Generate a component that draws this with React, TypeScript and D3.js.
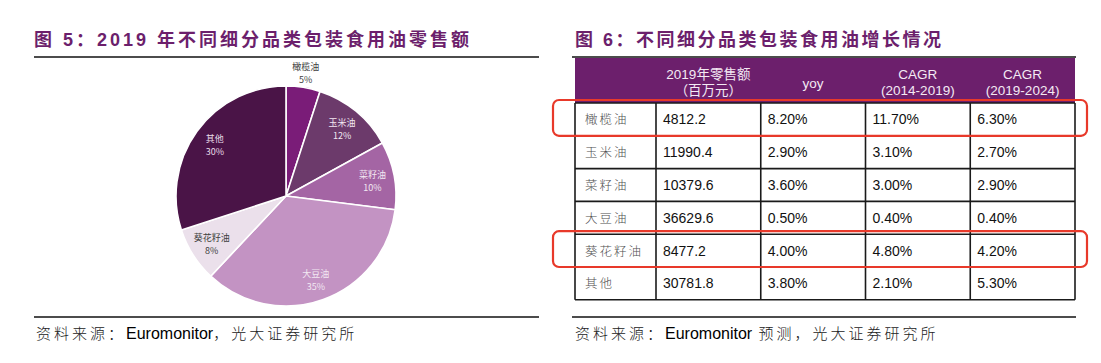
import React from "react";
import * as d3 from "d3";

const categories = ["橄榄油", "玉米油", "菜籽油", "大豆油", "葵花籽油", "其他"];
const pieShares = [5, 12, 10, 35, 8, 30];
const retail2019 = [4812.2, 11990.4, 10379.6, 36629.6, 8477.2, 30781.8];
const yoy = ["8.20%", "2.90%", "3.60%", "0.50%", "4.00%", "3.80%"];
const cagr1419 = ["11.70%", "3.10%", "3.00%", "0.40%", "4.80%", "2.10%"];
const cagr1924 = ["6.30%", "2.70%", "2.90%", "0.40%", "4.20%", "5.30%"];
const headerLines = [
  [""],
  ["2019年零售额", "（百万元）"],
  ["yoy"],
  ["CAGR", "(2014-2019)"],
  ["CAGR", "(2019-2024)"],
];
const highlighted = ["橄榄油", "葵花籽油"];

const sliceColors = ["#7a1c78", "#6c3a6b", "#a465a4", "#c393c3", "#ebe0eb", "#4a1447"];
const labelColors = ["#404040", "#f2e8f2", "#f2e8f2", "#f2e8f2", "#404040", "#e8dce8"];

const CJK = "'Noto Sans CJK SC', sans-serif";
const LAT = "'Liberation Sans', Arial, 'Noto Sans CJK SC', sans-serif";
const PURPLE = "#6c1f6c";

function Pie() {
  const cx = 286, cy = 196, R = 110;
  const total = d3.sum(pieShares);
  const pie = d3.pie<number>().sort(null).value((d) => d);
  const arcs = pie(pieShares);
  const arc = d3.arc<d3.PieArcDatum<number>>().innerRadius(0).outerRadius(R);
  return (
    <g transform={`translate(${cx},${cy})`}>
      {arcs.map((a, i) => (
        <path key={i} d={arc(a) || ""} fill={sliceColors[i]} stroke="#fff" strokeWidth={1.6} strokeLinejoin="round" />
      ))}
      {arcs.map((a, i) => {
        const share = a.value / total;
        const lr = share < 0.06 ? R + 16 : R * 0.8;
        const mid = (a.startAngle + a.endAngle) / 2;
        const x = Math.sin(mid) * lr;
        const y = -Math.cos(mid) * lr;
        return (
          <text key={"l" + i} x={x} y={y} textAnchor="middle" fontSize={9} fill={labelColors[i]} fontFamily={CJK}>
            <tspan x={x} dy={-2}>{categories[i]}</tspan>
            <tspan x={x} dy={13}>{d3.format(".0%")(share)}</tspan>
          </text>
        );
      })}
    </g>
  );
}

function Table() {
  const left = 575, right = 1075;
  const headTop = 58, headBottom = 103, rowH = 32.8;
  const firstW = 81;
  const colScale = d3.scaleLinear().domain([1, 5]).range([left + firstW, right]);
  const edges = [left, ...d3.range(1, 6).map((k) => colScale(k))];
  const rowScale = d3.scaleLinear().domain([0, categories.length]).range([headBottom, headBottom + rowH * categories.length]);
  const rows = categories.map((c, i) => [c, d3.format(".1f")(retail2019[i]), yoy[i], cagr1419[i], cagr1924[i]]);
  const bottom = rowScale(categories.length);
  return (
    <g>
      <rect x={left} y={headTop} width={right - left} height={headBottom - headTop} fill={PURPLE} />
      {headerLines.map((lines, j) => {
        const xc = (edges[j] + edges[j + 1]) / 2;
        const ys = lines.length === 2 ? [74, 90] : [83];
        return lines.map((t, k) => (
          <text key={j + "-" + k} x={xc} y={ys[k] + 5} textAnchor="middle" fontSize={13.5} fill="#f4eaf4" fontFamily={LAT}>
            {t}
          </text>
        ));
      })}
      {rows.map((r, i) =>
        r.map((t, j) => (
          <text
            key={i + "-" + j}
            x={edges[j] + (j === 0 ? 10 : 7)}
            y={(rowScale(i) + rowScale(i + 1)) / 2 + 5}
            fontSize={j === 0 ? 12.5 : 14}
            fill={j === 0 ? "#505050" : "#111"}
            fontFamily={j === 0 ? CJK : LAT}
            fontWeight={j === 0 ? 300 : 400}
            letterSpacing={j === 0 ? 2 : 0}
          >
            {t}
          </text>
        ))
      )}
      {d3.range(0, categories.length + 1).map((k) => (
        <line key={"h" + k} x1={left} x2={right} y1={rowScale(k)} y2={rowScale(k)} stroke="#1a1a1a" strokeWidth={1.6} />
      ))}
      {edges.map((x, k) => (
        <line key={"v" + k} x1={x} x2={x} y1={headBottom} y2={bottom} stroke="#1a1a1a" strokeWidth={1.6} />
      ))}
      {highlighted.map((h) => {
        const i = categories.indexOf(h);
        return (
          <rect
            key={h}
            x={553}
            y={rowScale(i) - 3}
            width={1087 - 553}
            height={rowH + 3}
            rx={6}
            fill="none"
            stroke="#e8392a"
            strokeWidth={2.2}
          />
        );
      })}
    </g>
  );
}

export default function App() {
  return (
    <svg width={1101} height={363} style={{ position: "absolute", left: 0, top: 0, background: "#fff" }}>
      <rect width={1101} height={363} fill="#fff" />
      {/* Left panel */}
      <text x={34} y={46} fontSize={18} fontWeight={700} fill={PURPLE} fontFamily={LAT} letterSpacing={3}>
        图 5：2019 年不同细分品类包装食用油零售额
      </text>
      <line x1={34} x2={539} y1={57} y2={57} stroke="#111" strokeWidth={1.3} />
      <Pie />
      <line x1={34} x2={539} y1={317} y2={317} stroke="#111" strokeWidth={1.3} />
      <text x={36} y={339} fontSize={15} fill="#222" fontFamily={CJK} fontWeight={300}>
        <tspan letterSpacing={3}>资料来源：</tspan>
        <tspan fontFamily={LAT} fontSize={16} fill="#000">Euromonitor</tspan>
        <tspan letterSpacing={3}>，光大证券研究所</tspan>
      </text>
      {/* Right panel */}
      <text x={575} y={46} fontSize={18} fontWeight={700} fill={PURPLE} fontFamily={LAT} letterSpacing={2.5}>
        图 6：不同细分品类包装食用油增长情况
      </text>
      <line x1={572} x2={1076} y1={57} y2={57} stroke="#111" strokeWidth={1.3} />
      <Table />
      <line x1={572} x2={1076} y1={317} y2={317} stroke="#111" strokeWidth={1.3} />
      <text x={575} y={339} fontSize={15} fill="#222" fontFamily={CJK} fontWeight={300}>
        <tspan letterSpacing={3}>资料来源：</tspan>
        <tspan fontFamily={LAT} fontSize={16} fill="#000">Euromonitor</tspan>
        <tspan letterSpacing={3}> 预测，光大证券研究所</tspan>
      </text>
    </svg>
  );
}
